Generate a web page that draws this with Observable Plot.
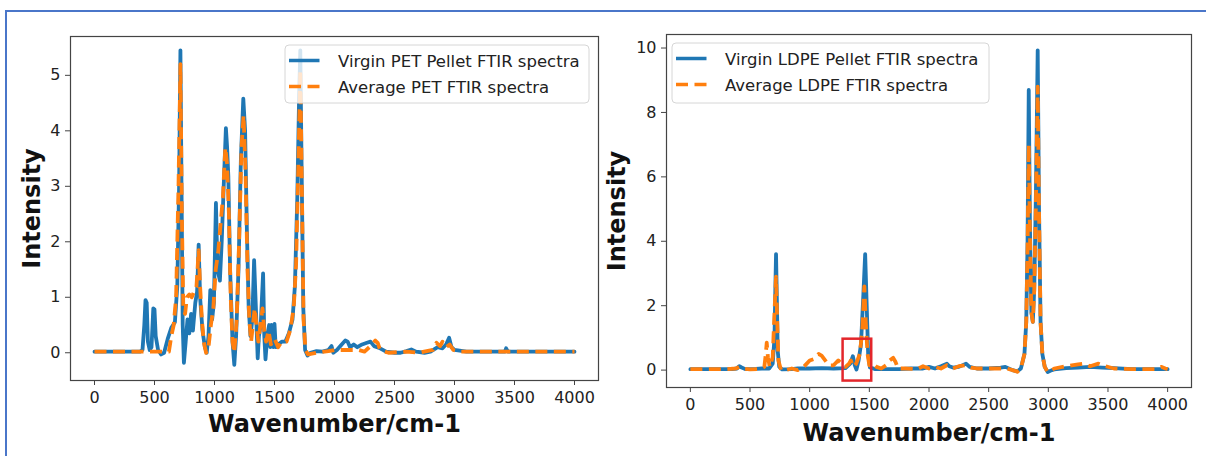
<!DOCTYPE html>
<html><head><meta charset="utf-8">
<script src="https://cdn.jsdelivr.net/npm/d3@7"></script>
<script src="https://cdn.jsdelivr.net/npm/@observablehq/plot@0.6"></script>
<style>
html,body{margin:0;padding:0;background:#fff;}
#root{position:relative;width:1206px;height:456px;overflow:hidden;background:#fff;font-family:"DejaVu Sans",sans-serif;}
#border{position:absolute;left:5px;top:10px;width:1300px;height:600px;border-top:2px solid #4a76c9;border-left:2px solid #4a76c9;}
.panel{position:absolute;top:0;}
</style></head><body><div id="root"><div id="border"></div></div>
<script>
// ---------- data ----------
const xTicks = [0, 500, 1000, 1500, 2000, 2500, 3000, 3500, 4000];
const petYTicks = [0, 1, 2, 3, 4, 5];
const ldpeYTicks = [0, 2, 4, 6, 8, 10];
const xLabel = "Wavenumber/cm-1";
const yLabel = "Intensity";
const petNames = ["Virgin PET Pellet FTIR spectra", "Average PET FTIR spectra"];
const ldpeNames = ["Virgin LDPE Pellet FTIR spectra", "Average LDPE FTIR spectra"];

// [wavenumber, intensity]
const petVirgin = [[0,0.02],[380,0.02],[400,0.05],[415,0.5],[425,0.95],[435,0.9],[445,0.2],[460,0.05],[475,0.1],[490,0.8],[500,0.78],[510,0.3],[530,0.05],[555,-0.03],[580,0.0],[610,0.25],[640,0.45],[670,0.55],[690,1.2],[705,3.0],[716,5.45],[725,3.0],[735,0.5],[745,-0.18],[760,0.2],[775,0.6],[790,0.35],[805,0.7],[820,0.4],[840,0.9],[855,1.1],[868,1.95],[880,1.0],[900,0.4],[920,0.1],[935,0.0],[950,0.3],[965,1.13],[980,0.6],[995,0.9],[1012,2.7],[1025,1.5],[1045,1.3],[1060,2.0],[1080,3.2],[1095,4.05],[1105,3.7],[1115,3.2],[1130,1.5],[1150,0.2],[1165,-0.22],[1180,0.3],[1200,1.5],[1220,3.5],[1240,4.58],[1255,4.0],[1270,2.2],[1285,0.8],[1300,0.3],[1315,0.6],[1330,1.67],[1345,0.8],[1360,-0.1],[1370,0.3],[1385,0.5],[1405,1.43],[1415,0.3],[1425,-0.12],[1440,0.3],[1455,0.5],[1465,0.1],[1475,0.5],[1490,0.1],[1500,0.52],[1510,0.1],[1530,0.15],[1560,0.2],[1590,0.2],[1620,0.35],[1650,0.6],[1670,1.2],[1690,2.8],[1705,4.6],[1715,5.45],[1725,3.5],[1740,0.8],[1755,0.05],[1775,-0.05],[1800,0.0],[1850,0.03],[1900,0.02],[1950,0.05],[1975,0.12],[1990,0.0],[2020,0.05],[2060,0.15],[2090,0.22],[2110,0.2],[2130,0.1],[2160,0.15],[2190,0.1],[2230,0.15],[2270,0.18],[2300,0.2],[2330,0.12],[2380,0.08],[2430,0.02],[2500,0.0],[2550,0.0],[2600,0.03],[2640,0.06],[2680,0.02],[2750,0.0],[2800,0.02],[2860,0.1],[2900,0.08],[2930,0.15],[2955,0.27],[2975,0.1],[3000,0.05],[3100,0.02],[3300,0.02],[3420,0.02],[3430,0.08],[3445,0.02],[3600,0.02],[4000,0.02]];

const petAverage = [[0,0.02],[560,0.02],[620,0.02],[640,0.3],[660,0.5],[680,1.0],[700,3.0],[716,5.2],[728,2.5],[740,0.8],[755,0.7],[770,1.0],[790,1.05],[810,1.0],[830,1.1],[850,1.2],[868,1.85],[880,1.2],[895,0.6],[910,0.2],[930,0.0],[950,0.1],[970,0.5],[990,0.8],[1010,1.5],[1030,1.8],[1050,2.3],[1070,2.8],[1090,3.7],[1105,3.4],[1120,2.5],[1135,1.0],[1150,0.2],[1165,0.0],[1185,0.6],[1205,2.0],[1225,3.7],[1242,4.28],[1258,3.3],[1275,1.5],[1290,0.6],[1305,0.2],[1320,0.5],[1335,0.8],[1350,0.5],[1365,0.2],[1380,0.45],[1400,0.8],[1415,0.4],[1430,0.2],[1450,0.4],[1470,0.15],[1500,0.25],[1530,0.1],[1560,0.2],[1600,0.2],[1630,0.4],[1660,0.8],[1680,1.6],[1700,3.5],[1715,5.1],[1728,3.0],[1742,0.6],[1758,0.05],[1780,-0.03],[1850,0.0],[1950,0.03],[2000,0.05],[2100,0.05],[2200,0.05],[2250,0.02],[2300,0.12],[2340,0.22],[2360,0.18],[2380,0.05],[2450,0.0],[2600,0.02],[2700,0.0],[2820,0.05],[2850,0.18],[2880,0.12],[2900,0.2],[2930,0.1],[2960,0.15],[2990,0.05],[3050,0.02],[4000,0.02]];

const ldpeVirgin = [[0,0.03],[350,0.03],[390,0.05],[410,0.12],[430,0.08],[460,0.03],[550,0.04],[600,0.05],[660,0.05],[690,0.2],[705,1.0],[712,2.5],[718,3.6],[724,2.4],[732,0.6],[745,0.1],[770,0.02],[850,0.03],[900,0.05],[1000,0.05],[1100,0.06],[1200,0.05],[1300,0.06],[1340,0.2],[1362,0.43],[1378,0.15],[1392,0.02],[1410,0.3],[1430,0.8],[1448,2.2],[1465,3.6],[1478,2.0],[1490,0.5],[1505,0.08],[1550,0.03],[1650,0.03],[1750,0.03],[1850,0.05],[1950,0.05],[2000,0.1],[2050,0.05],[2100,0.12],[2150,0.2],[2170,0.12],[2200,0.08],[2250,0.1],[2310,0.2],[2340,0.1],[2400,0.05],[2500,0.05],[2600,0.08],[2640,0.1],[2700,0.0],[2740,-0.04],[2770,0.05],[2800,0.5],[2815,1.5],[2826,4.0],[2836,8.7],[2846,4.5],[2858,1.8],[2870,1.5],[2882,2.5],[2896,5.5],[2911,9.93],[2922,5.0],[2935,1.5],[2950,0.5],[2970,0.1],[2995,-0.06],[3030,0.0],[3050,0.02],[3150,0.06],[3250,0.08],[3350,0.1],[3450,0.08],[3550,0.06],[3700,0.03],[4000,0.03]];

const ldpeAverage = [[0,0.03],[300,0.03],[380,0.05],[410,0.1],[440,0.05],[500,0.02],[580,0.03],[620,0.1],[632,0.5],[640,0.85],[650,0.4],[665,0.1],[690,0.4],[705,1.8],[718,2.9],[728,1.5],[738,0.3],[760,0.0],[800,0.0],[850,0.05],[900,0.0],[950,0.1],[1000,0.3],[1040,0.35],[1075,0.5],[1100,0.45],[1130,0.3],[1160,0.15],[1200,0.15],[1240,0.3],[1270,0.2],[1300,0.1],[1330,0.2],[1345,0.3],[1365,0.1],[1390,0.2],[1420,0.5],[1440,1.2],[1458,2.6],[1470,1.5],[1485,0.5],[1500,0.15],[1530,0.2],[1560,0.1],[1600,0.05],[1640,0.15],[1670,0.3],[1700,0.38],[1720,0.25],[1740,0.05],[1800,0.05],[1900,0.03],[1950,0.12],[2000,0.05],[2050,0.1],[2100,0.05],[2150,0.15],[2200,0.05],[2250,0.12],[2300,0.15],[2350,0.08],[2400,0.05],[2500,0.05],[2600,0.05],[2650,0.05],[2700,0.0],[2740,-0.05],[2770,0.05],[2800,0.5],[2815,1.5],[2826,3.8],[2836,7.0],[2846,4.2],[2858,1.8],[2870,1.5],[2882,2.5],[2896,5.2],[2911,8.8],[2922,5.0],[2935,1.5],[2950,0.5],[2970,0.1],[2995,-0.06],[3030,0.0],[3050,0.05],[3150,0.12],[3250,0.18],[3300,0.2],[3350,0.12],[3420,0.2],[3450,0.15],[3550,0.05],[3700,0.03],[3900,0.03],[3950,0.1],[3980,0.05],[4000,0.03]];

// highlighted region in the LDPE panel: [x1, x2, y1, y2]
const highlightBox = [1280, 1520, -0.34, 0.96];

// ---------- drawing ----------
const BLUE = "#1f77b4", ORANGE = "#ff7f0e";
const DASH = "12,6.5";
const root = document.getElementById("root");

function panel({left, width, margins, yDomain, yTicks, virgin, average, yLabelDx, xLabelDy, extra, legend, names}) {
  const [mt, mr, mb, ml] = margins;
  const chart = Plot.plot({
    width, height: 456,
    marginTop: mt, marginRight: mr, marginBottom: mb, marginLeft: ml,
    style: {fontFamily: "DejaVu Sans", fontSize: "16px", background: "transparent", color: "#222", overflow: "visible"},
    x: {domain: [-200, 4200]},
    y: {domain: yDomain},
    marks: [
      Plot.line(virgin, {x: d => d[0], y: d => d[1], stroke: BLUE, strokeWidth: 3.8, strokeLinejoin: "round"}),
      Plot.line(average, {x: d => d[0], y: d => d[1], stroke: ORANGE, strokeWidth: 3.8, strokeDasharray: DASH, strokeLinejoin: "round", strokeLinecap: "butt"}),
      ...(extra || []),
      Plot.frame({stroke: "#444", strokeWidth: 1.2}),
      Plot.axisX({ticks: xTicks, tickFormat: d => String(d), tickSize: 5, tickPadding: 6, label: null, stroke: "#444"}),
      Plot.axisY({ticks: yTicks, tickFormat: d => String(d), tickSize: 5, tickPadding: 5, label: null, stroke: "#444"}),
      Plot.text([xLabel], {frameAnchor: "bottom", dy: xLabelDy, text: d => d, fontSize: 24, fontWeight: "bold", fill: "#111", textAnchor: "middle", lineAnchor: "middle"}),
      Plot.text([yLabel], {frameAnchor: "left", dx: yLabelDx, rotate: -90, text: d => d, fontSize: 24, fontWeight: "bold", fill: "#111", textAnchor: "middle", lineAnchor: "middle"})
    ]
  });
  chart.classList.add("panel");
  chart.style.left = left + "px";
  root.appendChild(chart);

  // legend (matplotlib-style box, drawn over the lines)
  const svg = d3.select(chart);
  const g = svg.append("g").attr("font-family", "DejaVu Sans").attr("font-size", 16.5).attr("text-anchor", "start");
  g.append("rect").attr("x", legend.x).attr("y", legend.y).attr("width", legend.w).attr("height", legend.h)
    .attr("rx", 4).attr("fill", "#fff").attr("fill-opacity", 0.8).attr("stroke", "#d6d6d6");
  const rows = [
    {name: names[0], color: BLUE, dash: null, y: legend.y + 15.5},
    {name: names[1], color: ORANGE, dash: DASH, y: legend.y + 41.5}
  ];
  for (const r of rows) {
    g.append("line").attr("x1", legend.x + 4).attr("x2", legend.x + 34.5).attr("y1", r.y).attr("y2", r.y)
      .attr("stroke", r.color).attr("stroke-width", 3.5).attr("stroke-dasharray", r.dash);
    g.append("text").attr("x", legend.x + 53).attr("y", r.y + 1).attr("dy", "0.35em").attr("fill", "#222")
      .attr("text-anchor", "start").text(r.name);
  }
}

panel({
  left: 0, width: 610, margins: [36, 12, 76, 70],
  yDomain: [-0.5, 5.7], yTicks: petYTicks,
  virgin: petVirgin, average: petAverage,
  yLabelDx: -38, xLabelDy: 44,
  legend: {x: 285, y: 45, w: 304, h: 58}, names: petNames
});

panel({
  left: 596, width: 610, margins: [34, 15, 69, 70],
  yDomain: [-0.54, 10.42], yTicks: ldpeYTicks,
  virgin: ldpeVirgin, average: ldpeAverage,
  yLabelDx: -49, xLabelDy: 46,
  extra: [Plot.rect([highlightBox], {x1: d => d[0], x2: d => d[1], y1: d => d[2], y2: d => d[3], fill: "none", stroke: "#e3262b", strokeWidth: 2.5})],
  legend: {x: 76, y: 43, w: 317, h: 60}, names: ldpeNames
});
</script></body></html>
